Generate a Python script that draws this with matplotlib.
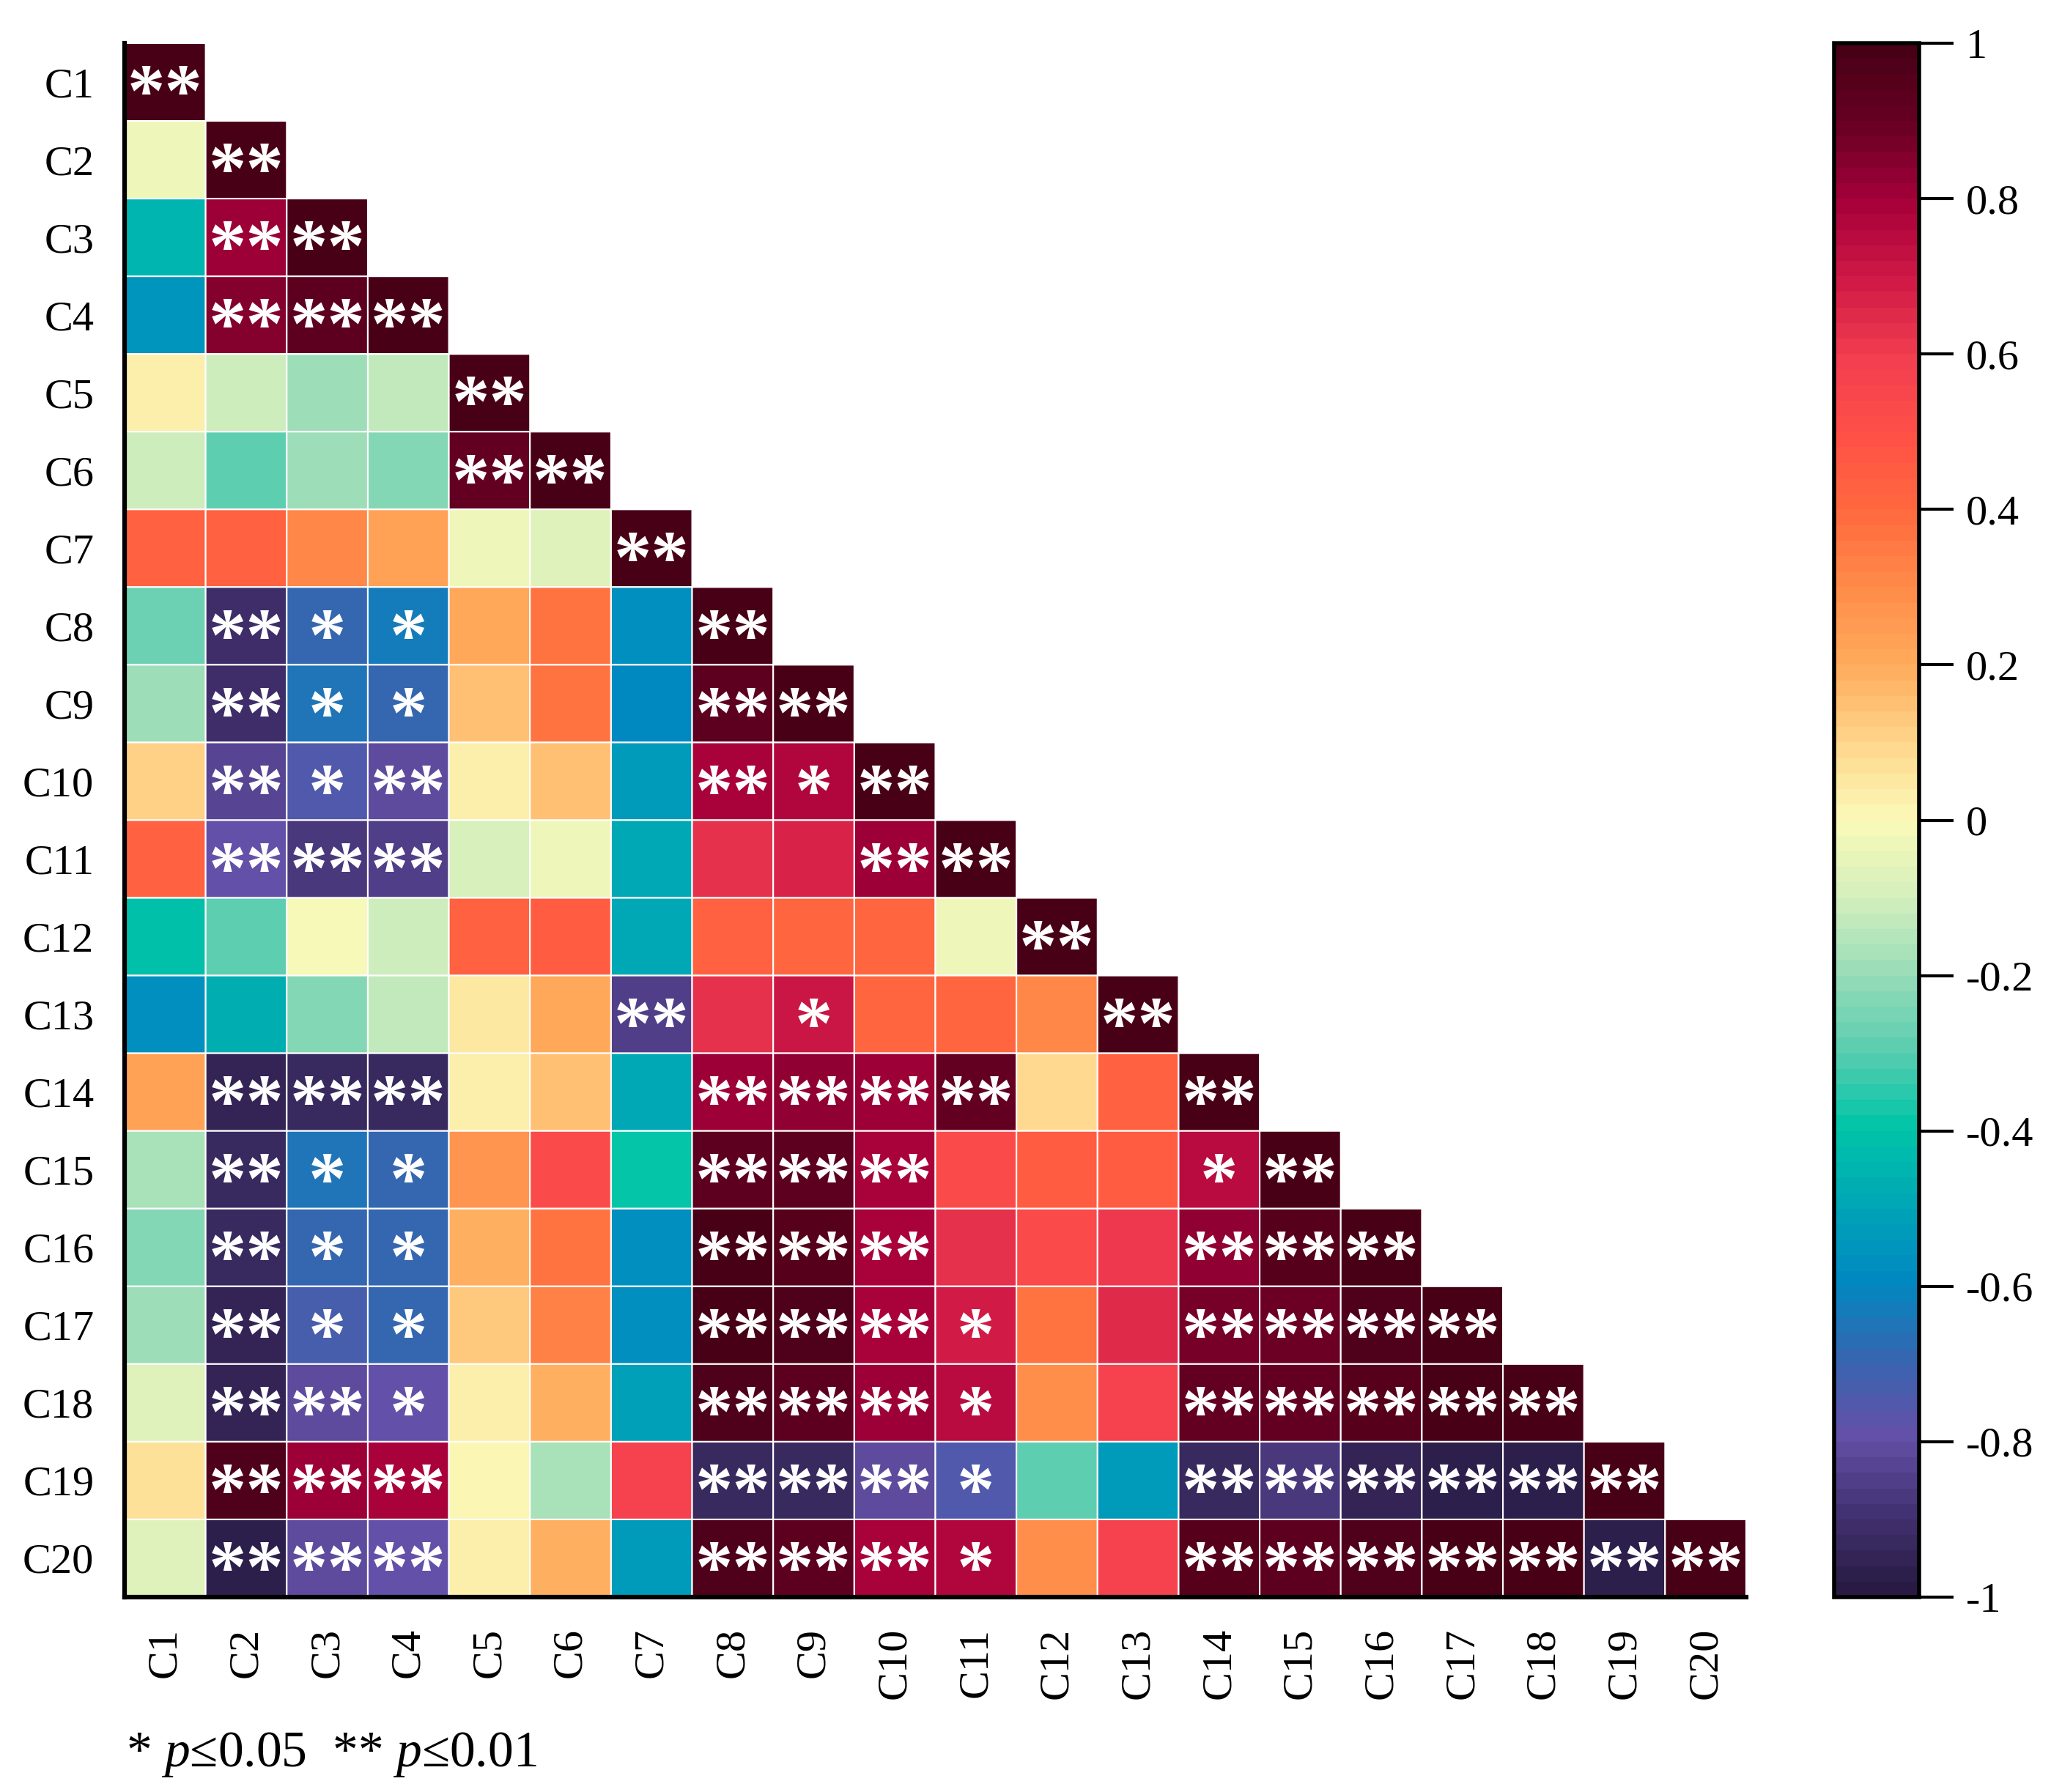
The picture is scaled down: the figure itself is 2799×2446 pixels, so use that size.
import numpy as np
import matplotlib
matplotlib.use("Agg")
import matplotlib.pyplot as plt
from matplotlib.colors import LinearSegmentedColormap

plt.rcParams['font.family'] = ['Liberation Serif', 'DejaVu Serif']
plt.rcParams['axes.unicode_minus'] = False
plt.rcParams['mathtext.fontset'] = 'custom'
plt.rcParams['mathtext.rm'] = 'Liberation Serif'
plt.rcParams['mathtext.it'] = 'Liberation Serif:italic'

labels = [f"C{i}" for i in range(1, 21)]

# lower-triangle correlation values, row by row (row i has i values)
r01 = [1.00]
r02 = [-0.03, 1.00]
r03 = [-0.45, 0.82, 1.00]
r04 = [-0.55, 0.85, 0.92, 1.00]
r05 = [0.02, -0.12, -0.20, -0.14, 1.00]
r06 = [-0.12, -0.30, -0.20, -0.23, 0.90, 1.00]
r07 = [0.42, 0.42, 0.30, 0.22, -0.03, -0.08, 1.00]
r08 = [-0.27, -0.90, -0.70, -0.63, 0.20, 0.36, -0.58, 1.00]
r09 = [-0.20, -0.90, -0.66, -0.68, 0.16, 0.36, -0.60, 0.92, 1.00]
r10 = [0.10, -0.84, -0.76, -0.82, 0.02, 0.16, -0.53, 0.78, 0.76, 1.00]
r11 = [0.42, -0.78, -0.88, -0.86, -0.10, -0.03, -0.50, 0.62, 0.66, 0.82, 1.00]
r12 = [-0.42, -0.30, -0.01, -0.12, 0.42, 0.44, -0.50, 0.43, 0.41, 0.41, -0.03, 1.00]
r13 = [-0.57, -0.48, -0.23, -0.14, 0.05, 0.20, -0.86, 0.62, 0.70, 0.41, 0.40, 0.30, 1.00]
r14 = [0.22, -0.95, -0.92, -0.92, 0.02, 0.14, -0.50, 0.82, 0.83, 0.81, 0.90, 0.08, 0.43, 1.00]
r15 = [-0.17, -0.92, -0.65, -0.70, 0.27, 0.52, -0.40, 0.92, 0.92, 0.79, 0.52, 0.44, 0.44, 0.75, 1.00]
r16 = [-0.24, -0.93, -0.68, -0.68, 0.19, 0.37, -0.57, 0.98, 0.94, 0.79, 0.63, 0.53, 0.60, 0.83, 0.94, 1.00]
r17 = [-0.20, -0.96, -0.74, -0.70, 0.12, 0.33, -0.57, 0.98, 0.96, 0.78, 0.68, 0.36, 0.65, 0.86, 0.89, 0.97, 1.00]
r18 = [-0.08, -0.95, -0.80, -0.78, 0.02, 0.19, -0.52, 0.96, 0.93, 0.82, 0.74, 0.28, 0.56, 0.90, 0.90, 0.94, 0.98, 1.00]
r19 = [0.07, 0.97, 0.82, 0.79, 0.00, -0.18, 0.56, -0.94, -0.92, -0.81, -0.76, -0.30, -0.54, -0.93, -0.88, -0.96, -0.98, -0.98, 1.00]
r20 = [-0.08, -0.97, -0.81, -0.78, 0.02, 0.19, -0.54, 0.96, 0.92, 0.79, 0.76, 0.28, 0.56, 0.95, 0.92, 0.96, 0.98, 0.98, -0.97, 1.00]
rows = [r01, r02, r03, r04, r05, r06, r07, r08, r09, r10,
        r11, r12, r13, r14, r15, r16, r17, r18, r19, r20]

# significance marks per row ('' none, '*' p<=0.05, '**' p<=0.01)
s01 = ['**']
s02 = ['', '**']
s03 = ['', '**', '**']
s04 = ['', '**', '**', '**']
s05 = ['', '', '', '', '**']
s06 = ['', '', '', '', '**', '**']
s07 = ['', '', '', '', '', '', '**']
s08 = ['', '**', '*', '*', '', '', '', '**']
s09 = ['', '**', '*', '*', '', '', '', '**', '**']
s10 = ['', '**', '*', '**', '', '', '', '**', '*', '**']
s11 = ['', '**', '**', '**', '', '', '', '', '', '**', '**']
s12 = ['', '', '', '', '', '', '', '', '', '', '', '**']
s13 = ['', '', '', '', '', '', '**', '', '*', '', '', '', '**']
s14 = ['', '**', '**', '**', '', '', '', '**', '**', '**', '**', '', '', '**']
s15 = ['', '**', '*', '*', '', '', '', '**', '**', '**', '', '', '', '*', '**']
s16 = ['', '**', '*', '*', '', '', '', '**', '**', '**', '', '', '', '**', '**', '**']
s17 = ['', '**', '*', '*', '', '', '', '**', '**', '**', '*', '', '', '**', '**', '**', '**']
s18 = ['', '**', '**', '*', '', '', '', '**', '**', '**', '*', '', '', '**', '**', '**', '**', '**']
s19 = ['', '**', '**', '**', '', '', '', '**', '**', '**', '*', '', '', '**', '**', '**', '**', '**', '**']
s20 = ['', '**', '**', '**', '', '', '', '**', '**', '**', '*', '', '', '**', '**', '**', '**', '**', '**', '**']
sigs = [s01, s02, s03, s04, s05, s06, s07, s08, s09, s10,
        s11, s12, s13, s14, s15, s16, s17, s18, s19, s20]

cbar_ticks = [1, 0.8, 0.6, 0.4, 0.2, 0, -0.2, -0.4, -0.6, -0.8, -1]
cbar_ticklabels = ['1', '0.8', '0.6', '0.4', '0.2', '0', '-0.2', '-0.4', '-0.6', '-0.8', '-1']

anchor_vals = [-1.0, -0.9, -0.8, -0.7, -0.6, -0.5, -0.4, -0.3, -0.2, -0.1, 0.0,
               0.1, 0.2, 0.3, 0.4, 0.5, 0.6, 0.7, 0.8, 0.9, 1.0]
anchor_cols = ['#281a42', '#433272', '#6450a8', '#3666b0', '#0088c0', '#00a6b6',
               '#00c4a8', '#5acdb0', '#98dcb8', '#d4efbc', '#fafab8',
               '#ffd68c', '#ffac5c', '#ff8c4a', '#ff6a3e', '#ff5046', '#f23e50',
               '#d01a46', '#a8003a', '#6a0024', '#480017']
cmap = LinearSegmentedColormap.from_list(
    'corr', list(zip([(v + 1) / 2 for v in anchor_vals], anchor_cols)), N=100)

n = len(labels)
M = np.full((n, n), np.nan)
for i, r in enumerate(rows):
    M[i, :len(r)] = r
Mm = np.ma.masked_invalid(M)

W, H = 2799, 2446
fig = plt.figure(figsize=(W / 100, H / 100), dpi=100)
ax = fig.add_axes([170 / W, 1 - 2180 / H, (2383 - 170) / W, (2180 - 59) / H])
mesh = ax.pcolor(Mm, cmap=cmap, vmin=-1, vmax=1, edgecolors='white', linewidth=1.5)
ax.set_xlim(0, n)
ax.set_ylim(n, 0)

star_fs = 74
cell_h_px = (2180 - 59) / n
y_off = 0.45 * star_fs * (100 / 72) / cell_h_px
for i in range(n):
    for j, s in enumerate(sigs[i]):
        if s:
            ax.text(j + 0.5, i + 0.5 + y_off, s, ha='center', va='baseline',
                    color='white', fontsize=star_fs, fontweight='bold',
                    family=['Liberation Serif'])

ax.set_xticks(np.arange(n) + 0.5)
ax.set_yticks(np.arange(n) + 0.5)
ax.set_xticklabels(labels, rotation=90, fontsize=42)
ax.set_yticklabels(labels, fontsize=42)
ax.tick_params(axis='both', length=0, pad=30)
for side in ['top', 'right']:
    ax.spines[side].set_visible(False)
for side in ['left', 'bottom']:
    ax.spines[side].set_linewidth(4.5)
    ax.spines[side].set_color('black')

cax = fig.add_axes([2503 / W, 1 - 2180 / H, (2619 - 2503) / W, (2180 - 59) / H])
cb = fig.colorbar(mesh, cax=cax, ticks=cbar_ticks)
cb.ax.set_yticklabels(cbar_ticklabels, fontsize=42)
cb.outline.set_linewidth(4)
cb.ax.tick_params(length=34, width=3, pad=12)

fig.text(172 / W, 1 - 2395 / H, r'* $\mathit{p}$≤0.05  ** $\mathit{p}$≤0.01',
         fontsize=50, ha='left', va='center')

fig.savefig('out.png', dpi=100)
